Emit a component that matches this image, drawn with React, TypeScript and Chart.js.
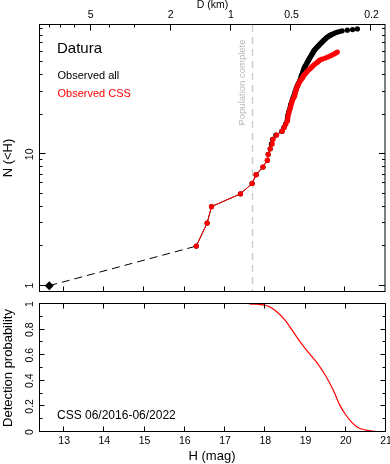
import React, { useEffect, useRef } from "react";
import { Chart, registerables } from "chart.js";
Chart.register(...registerables);

// ---------- data ----------
const primaryH = [12.63];
const primaryN = [1];
const linkH = [12.63, 16.29];
const linkN = [1, 2];

// cumulative N(<H), first value is N = 2
const cssH = [
  16.29, 16.56, 16.67, 17.39, 17.68, 17.78, 17.95, 18.06, 18.08, 18.13,
  18.18, 18.2, 18.29, 18.43, 18.48, 18.52, 18.56, 18.57, 18.58, 18.6,
  18.62, 18.64, 18.65, 18.67, 18.69, 18.72, 18.74, 18.75, 18.76, 18.78,
  18.79, 18.81, 18.83, 18.85, 18.87, 18.9, 18.93, 18.95, 18.97, 19.0,
  19.03, 19.06, 19.09, 19.13, 19.16, 19.19, 19.22, 19.26, 19.3, 19.33,
  19.36, 19.42, 19.5, 19.56, 19.62, 19.67, 19.72, 19.76, 19.8,
];
const allH = [
  16.29, 16.56, 16.67, 17.39, 17.68, 17.78, 17.95, 18.06, 18.08, 18.13,
  18.16, 18.19, 18.27, 18.42, 18.47, 18.51, 18.55, 18.56, 18.57, 18.59,
  18.61, 18.63, 18.64, 18.66, 18.68, 18.7, 18.72, 18.74, 18.75, 18.77,
  18.78, 18.8, 18.82, 18.84, 18.86, 18.88, 18.89, 18.9, 18.91, 18.93,
  18.94, 18.95, 18.96, 18.97, 18.99, 19.0, 19.02, 19.04, 19.05, 19.07,
  19.08, 19.1, 19.11, 19.13, 19.14, 19.16, 19.17, 19.19, 19.2, 19.21,
  19.23, 19.25, 19.27, 19.29, 19.31, 19.33, 19.35, 19.37, 19.39, 19.41,
  19.43, 19.45, 19.47, 19.49, 19.51, 19.53, 19.55, 19.58, 19.61, 19.64,
  19.67, 19.71, 19.75, 19.8, 19.86, 19.92, 20.05, 20.18, 20.3,
];

const detH = [17.6, 17.8, 18.0, 18.15, 18.3, 18.5, 18.7, 18.9, 19.1, 19.3, 19.5, 19.7, 19.85, 20.0, 20.15, 20.3, 20.5, 20.7, 20.85, 21.0];
const detP = [1.0, 0.998, 0.99, 0.97, 0.935, 0.87, 0.78, 0.69, 0.61, 0.535, 0.44, 0.32, 0.21, 0.135, 0.075, 0.035, 0.015, 0.006, 0.002, 0.0];

const completeH = 17.675;
const hTicks = [13, 14, 15, 16, 17, 18, 19, 20, 21];
const dMajor = [5, 2, 1, 0.5, 0.2];
const dMinor = [8, 7, 6, 4, 3];
const nMajor = [1, 10];
const nMinor = [2, 3, 4, 5, 6, 7, 8, 9, 20, 30, 40, 50, 60, 70, 80, 90];
const pMajor = [0, 0.2, 0.4, 0.6, 0.8, 1];
const pMinor = [0.1, 0.3, 0.5, 0.7, 0.9];
const H_AT_1KM = 17.155;

const FONT = '"Liberation Sans", Arial, sans-serif';

function rotText(ctx: CanvasRenderingContext2D, t: string, x: number, y: number) {
  ctx.save();
  ctx.translate(x, y);
  ctx.rotate(-Math.PI / 2);
  ctx.textAlign = "center";
  ctx.textBaseline = "middle";
  ctx.fillText(t, 0, 0);
  ctx.restore();
}

function hLine(ctx: CanvasRenderingContext2D, x: number, y0: number, y1: number) {
  ctx.beginPath();
  ctx.moveTo(x, y0);
  ctx.lineTo(x, y1);
  ctx.stroke();
}
function vLine(ctx: CanvasRenderingContext2D, y: number, x0: number, x1: number) {
  ctx.beginPath();
  ctx.moveTo(x0, y);
  ctx.lineTo(x1, y);
  ctx.stroke();
}

const topPlugin = {
  id: "topAxes",
  beforeDatasetsDraw(chart: any) {
    const { ctx, chartArea: ca, scales } = chart;
    const px = Math.round(scales.x.getPixelForValue(completeH)) + 0.5;
    ctx.save();
    ctx.strokeStyle = "#c8c8c8";
    ctx.lineWidth = 1.3;
    ctx.setLineDash([7, 5]);
    hLine(ctx, px, ca.top, ca.bottom);
    ctx.setLineDash([]);
    ctx.fillStyle = "#b8b8b8";
    ctx.font = `9.5px ${FONT}`;
    rotText(ctx, "Population complete", px - 10.5, 82.5);
    ctx.restore();
  },
  afterDraw(chart: any) {
    const { ctx, chartArea: ca, scales } = chart;
    const x = scales.x;
    const y = scales.y;
    ctx.save();
    ctx.strokeStyle = "#000";
    ctx.lineWidth = 1;
    ctx.strokeRect(ca.left - 0.5, ca.top - 0.5, ca.right - ca.left, ca.bottom - ca.top);
    const L = ca.left - 0.5, R = ca.right - 0.5, T = ca.top - 0.5, B = ca.bottom - 0.5;
    // bottom H ticks
    hTicks.forEach((h) => {
      const p = Math.round(x.getPixelForValue(h)) - 0.5;
      if (p > L + 1 && p < R - 1) hLine(ctx, p, B, B - 5);
    });
    // top D ticks
    dMajor.forEach((d) => {
      const p = Math.round(x.getPixelForValue(H_AT_1KM - 5 * Math.log10(d))) - 0.5;
      hLine(ctx, p, T, T + 6);
    });
    dMinor.forEach((d) => {
      const p = Math.round(x.getPixelForValue(H_AT_1KM - 5 * Math.log10(d))) - 0.5;
      hLine(ctx, p, T, T + 3);
    });
    // log N ticks
    nMajor.forEach((n) => {
      const p = Math.round(y.getPixelForValue(n)) - 0.5;
      vLine(ctx, p, L, L + 6);
      vLine(ctx, p, R, R - 6);
    });
    nMinor.forEach((n) => {
      const p = Math.round(y.getPixelForValue(n)) - 0.5;
      vLine(ctx, p, L, L + 3);
      vLine(ctx, p, R, R - 3);
    });
    // labels
    ctx.fillStyle = "#000";
    ctx.font = `10.5px ${FONT}`;
    ctx.textAlign = "center";
    ctx.textBaseline = "middle";
    dMajor.forEach((d) => {
      const p = x.getPixelForValue(H_AT_1KM - 5 * Math.log10(d));
      ctx.fillText(String(d), p, 15.5);
    });
    ctx.fillText("D (km)", 212.5, 5.5);
    nMajor.forEach((n) => rotText(ctx, String(n), 30, y.getPixelForValue(n)));
    ctx.font = `13px ${FONT}`;
    rotText(ctx, "N (<H)", 8, 158);
    ctx.textAlign = "left";
    ctx.textBaseline = "middle";
    ctx.font = `15px ${FONT}`;
    ctx.fillText("Datura", 57, 48.5);
    ctx.font = `11px ${FONT}`;
    ctx.fillText("Observed all", 57.5, 76);
    ctx.fillStyle = "#ff0000";
    ctx.fillText("Observed CSS", 57.5, 94);
    ctx.restore();
  },
};

const bottomPlugin = {
  id: "bottomAxes",
  afterDraw(chart: any) {
    const { ctx, chartArea: ca, scales } = chart;
    const x = scales.x;
    const y = scales.y;
    ctx.save();
    ctx.strokeStyle = "#000";
    ctx.lineWidth = 1;
    ctx.strokeRect(ca.left - 0.5, ca.top - 0.5, ca.right - ca.left, ca.bottom - ca.top);
    const L = ca.left - 0.5, R = ca.right - 0.5, T = ca.top - 0.5, B = ca.bottom - 0.5;
    hTicks.forEach((h) => {
      const p = Math.round(x.getPixelForValue(h)) - 0.5;
      if (p > L + 1 && p < R - 1) {
        hLine(ctx, p, B, B - 5);
        hLine(ctx, p, T, T + 5);
      }
    });
    pMajor.forEach((v) => {
      const p = Math.round(y.getPixelForValue(v)) - 0.5;
      vLine(ctx, p, L, L + 5);
      vLine(ctx, p, R, R - 5);
    });
    pMinor.forEach((v) => {
      const p = Math.round(y.getPixelForValue(v)) - 0.5;
      vLine(ctx, p, L, L + 3);
      vLine(ctx, p, R, R - 3);
    });
    ctx.fillStyle = "#000";
    ctx.font = `10.5px ${FONT}`;
    ctx.textAlign = "center";
    ctx.textBaseline = "middle";
    hTicks.forEach((h) => ctx.fillText(String(h), x.getPixelForValue(h), 142.7));
    pMajor.forEach((v) => rotText(ctx, String(v), 30, y.getPixelForValue(v)));
    ctx.font = `13px ${FONT}`;
    ctx.fillText("H (mag)", 212, 158.5);
    rotText(ctx, "Detection probability", 8, 70);
    ctx.textAlign = "left";
    ctx.font = `12px ${FONT}`;
    ctx.fillText("CSS 06/2016-06/2022", 57, 118);
    ctx.restore();
  },
};

export default function App() {
  const topRef = useRef<HTMLCanvasElement>(null);
  const botRef = useRef<HTMLCanvasElement>(null);

  useEffect(() => {
    const common = {
      responsive: false,
      animation: false as const,
      devicePixelRatio: 1,
      plugins: { legend: { display: false }, tooltip: { enabled: false } },
      events: [] as any[],
    };
    const top = new Chart(topRef.current!, {
      type: "scatter",
      data: {
        datasets: [
          {
            data: primaryH.map((h, i) => ({ x: h, y: primaryN[i] })),
            pointStyle: "rectRot",
            pointRadius: 4.5,
            backgroundColor: "#000",
            borderColor: "#000",
            borderWidth: 0,
            showLine: false,
            order: 0,
          },
          {
            data: cssH.map((h, i) => ({ x: h, y: i + 2 })),
            showLine: true,
            borderColor: "#ff0000",
            backgroundColor: "#ff0000",
            borderWidth: 1,
            pointRadius: 2.6,
            pointBorderWidth: 0,
            order: 1,
          },
          {
            data: allH.map((h, i) => ({ x: h, y: i + 2 })),
            showLine: true,
            borderColor: "#000",
            backgroundColor: "#000",
            borderWidth: 1,
            pointRadius: 2.6,
            pointBorderWidth: 0,
            order: 2,
          },
          {
            data: linkH.map((h, i) => ({ x: h, y: linkN[i] })),
            showLine: true,
            borderColor: "#000",
            borderWidth: 1,
            borderDash: [8, 5],
            pointRadius: 0,
            order: 3,
          },
        ],
      },
      options: {
        ...common,
        layout: { padding: { left: 40, right: 4, top: 25, bottom: 6 } },
        scales: {
          x: { type: "linear", min: 12.4, max: 21, display: false },
          y: { type: "logarithmic", min: 0.895, max: 96.4, display: false },
        },
      } as any,
      plugins: [topPlugin],
    });
    const bot = new Chart(botRef.current!, {
      type: "scatter",
      data: {
        datasets: [
          {
            data: detH.map((h, i) => ({ x: h, y: detP[i] })),
            showLine: true,
            borderColor: "#ff0000",
            borderWidth: 1.2,
            pointRadius: 0,
            cubicInterpolationMode: "monotone",
          },
        ],
      },
      options: {
        ...common,
        layout: { padding: { left: 40, right: 4, top: 6, bottom: 32 } },
        scales: {
          x: { type: "linear", min: 12.4, max: 21, display: false },
          y: { type: "linear", min: 0, max: 1, display: false },
        },
      } as any,
      plugins: [bottomPlugin],
    });
    return () => {
      top.destroy();
      bot.destroy();
    };
  }, []);

  return (
    <div style={{ position: "absolute", left: 0, top: 0, width: 390, height: 464, background: "#fff" }}>
      <canvas ref={topRef} width={390} height={298} style={{ position: "absolute", left: 0, top: 0 }} />
      <canvas ref={botRef} width={390} height={166} style={{ position: "absolute", left: 0, top: 298 }} />
    </div>
  );
}
